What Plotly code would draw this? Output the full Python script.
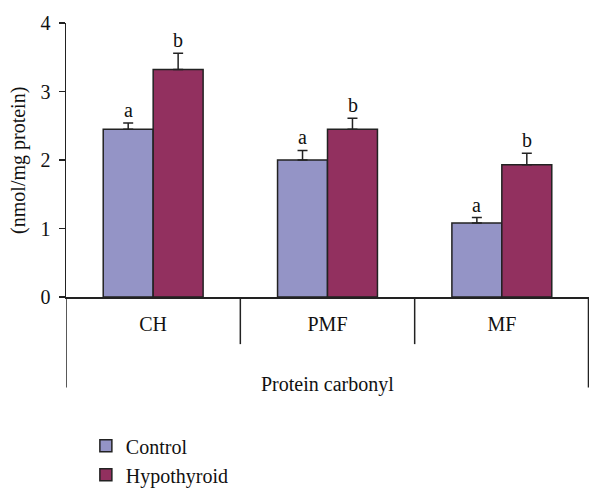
import plotly.graph_objects as go

categories = ["CH", "PMF", "MF"]
control = [2.45, 2.00, 1.08]
control_err = [0.09, 0.14, 0.08]
hypo = [3.32, 2.45, 1.93]
hypo_err = [0.24, 0.16, 0.17]
control_letters = ["a", "a", "a"]
hypo_letters = ["b", "b", "b"]

FONT = "Liberation Serif"
C_COL = "#9494C6"
H_COL = "#92305F"
LINE = "#222222"
FS = 20

fig = go.Figure()
fig.add_bar(x=categories, y=control, name="Control", marker=dict(color=C_COL, line=dict(color=LINE, width=1.5)),
            error_y=dict(type="data", array=control_err, arrayminus=[0]*3, symmetric=False, color=LINE, thickness=1.5, width=5))
fig.add_bar(x=categories, y=hypo, name="Hypothyroid", marker=dict(color=H_COL, line=dict(color=LINE, width=1.5)),
            error_y=dict(type="data", array=hypo_err, arrayminus=[0]*3, symmetric=False, color=LINE, thickness=1.5, width=5))

ann = []
for i, c in enumerate(categories):
    ann.append(dict(x=c, y=control[i] + control_err[i], text=control_letters[i], xref="x", yref="y",
                    xshift=-25, yanchor="bottom", showarrow=False, font=dict(size=FS)))
    ann.append(dict(x=c, y=hypo[i] + hypo_err[i], text=hypo_letters[i], xref="x", yref="y",
                    xshift=25, yanchor="bottom", showarrow=False, font=dict(size=FS)))
ann.append(dict(x=0.5, y=-0.32, xref="paper", yref="paper", text="Protein carbonyl", showarrow=False,
                yanchor="middle", font=dict(size=FS)))
ann.append(dict(x=-0.092, y=0.5, xref="paper", yref="paper", text="(nmol/mg protein)", showarrow=False,
                textangle=-90, xanchor="center", yanchor="middle", font=dict(size=FS)))

shapes = []
for xv in [0.5, 1.5]:
    shapes.append(dict(type="line", xref="x", yref="paper", x0=xv, x1=xv, y0=0, y1=-0.172,
                       line=dict(color=LINE, width=1.5)))
for xv in [-0.5, 2.497]:
    shapes.append(dict(type="line", xref="x", yref="paper", x0=xv, x1=xv, y0=0, y1=-0.33,
                       line=dict(color=LINE, width=1.5)))

fig.update_layout(
    width=589, height=491,
    margin=dict(l=66, r=0, t=23, b=194, autoexpand=False),
    paper_bgcolor="white", plot_bgcolor="white",
    font=dict(family=FONT, size=FS, color="#111111"),
    barmode="group", bargap=0.427, bargroupgap=0,
    showlegend=True,
    legend=dict(x=0.038, y=-0.72, xanchor="left", yanchor="bottom", font=dict(size=FS),
                bgcolor="rgba(0,0,0,0)", tracegroupgap=0),
    annotations=ann, shapes=shapes,
)
fig.update_xaxes(range=[-0.5, 2.5], showline=True, linecolor=LINE, linewidth=1.5, ticks="", ticklen=0,
                 ticklabelstandoff=8, showgrid=False, zeroline=False, automargin=False)
fig.update_yaxes(range=[0, 4], tickvals=[0, 1, 2, 3, 4], showline=True, linecolor=LINE, linewidth=1.5,
                 ticks="outside", ticklen=6, tickcolor=LINE, tickwidth=1.5, showgrid=False, zeroline=False,
                 ticklabelstandoff=4, automargin=False)

fig.write_html("out.html", config={"displayModeBar": False, "staticPlot": True},
               post_script="document.body.style.margin='0';")
